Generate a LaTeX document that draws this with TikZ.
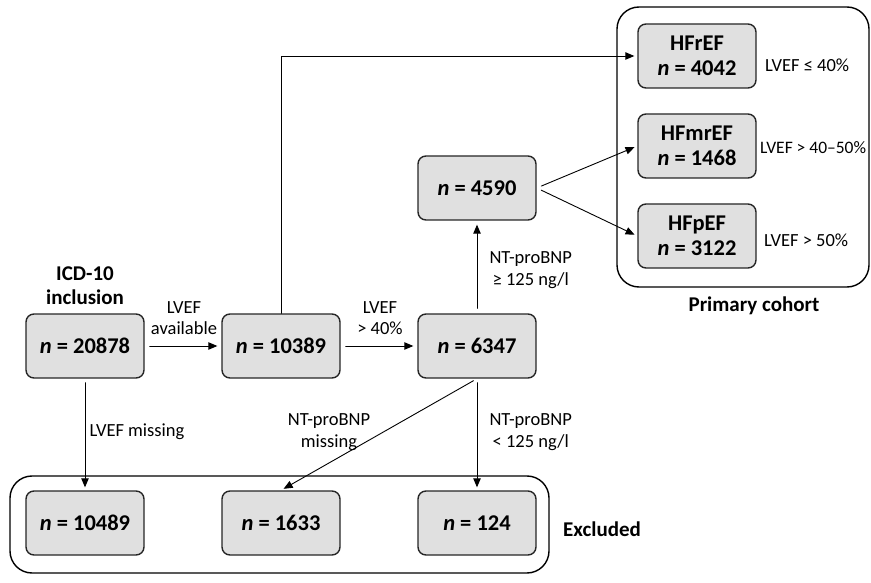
\documentclass[tikz,border=0pt]{standalone}
\usepackage{fontspec}
\setmainfont{Carlito}
\usetikzlibrary{arrows.meta}

\begin{document}
\begin{tikzpicture}[line cap=round,line join=round,>={Triangle[length=9pt,width=7.5pt]},x=1pt,y=-1pt,
  box/.style={draw=black!85,line width=1.4pt,fill=black!12,rounded corners=8pt,
    minimum width=118pt,minimum height=64pt,align=center,
    font=\fontsize{22.5}{25}\selectfont\bfseries},
  group/.style={draw=black,line width=1.4pt,rounded corners=22pt},
  lbl/.style={font=\fontsize{18.5}{21.5}\selectfont,align=center},
  side/.style={lbl,anchor=west,inner sep=0pt},
  head/.style={font=\fontsize{21}{24}\selectfont\bfseries,align=center},
  conn/.style={->,line width=0.9pt}]
\useasboundingbox (0,0) rectangle (871,583);

% groups
\draw [group] (617,7) rectangle (869,287);
\draw [group] (10,476) rectangle (549,573);
\node [head] (primary) at (754,306) {Primary cohort};
\node [head] (excluded) at (602,529) {Excluded};

% main row
\node [head] (incl) at (85,286) {ICD-10\\inclusion};
\node [box] (all) at (85,346) {\textit{n} = 20878};
\node [box] (lvef) at (281,346) {\textit{n} = 10389};
\node [box] (mid) at (477,346) {\textit{n} = 6347};
\node [box] (bnp) at (477,188) {\textit{n} = 4590};

% primary cohort
\node [box] (hfr) at (697,56) {HFrEF\\\textit{n} = 4042};
\node [box] (hfmr) at (697,146) {HFmrEF\\\textit{n} = 1468};
\node [box] (hfp) at (697,236) {HFpEF\\\textit{n} = 3122};
\node [side] (lr) at (765,65) {LVEF ≤ 40\%};
\node [side,font=\fontsize{17.5}{20}\selectfont] (lmr) at (760,148) {LVEF > 40–50\%};
\node [side] (lp) at (764,240) {LVEF > 50\%};

% excluded
\node [box] (ex1) at (85,523) {\textit{n} = 10489};
\node [box] (ex2) at (281,523) {\textit{n} = 1633};
\node [box] (ex3) at (477,523) {\textit{n} = 124};

% connectors
\draw [conn,shorten <=5pt,shorten >=4pt] (all) -- (lvef);
\draw [conn,shorten <=5pt,shorten >=4pt] (lvef) -- (mid);
\draw [conn,shorten <=5pt,shorten >=4pt] (mid) -- (bnp);
\draw [conn,shorten >=3pt] (lvef.north) |- (hfr.west);
\draw [conn,shorten <=5pt,shorten >=3pt] (bnp.east) -- (hfmr.west);
\draw [conn,shorten <=5pt,shorten >=3pt] (bnp.east) -- (hfp.west);
\draw [conn,shorten <=4pt,shorten >=3pt] (all) -- (ex1);
\draw [conn,shorten <=4pt,shorten >=3pt] (mid.south) -- (ex2.north);
\draw [conn,shorten <=4pt,shorten >=3pt] (mid) -- (ex3);

% connector labels
\node [lbl] (t1) at (184,318) {LVEF\\available};
\node [lbl] (t2) at (380,318) {LVEF\\> 40\%};
\node [lbl,anchor=west] (t3) at (486,270) {NT-proBNP\\≥ 125 ng/l};
\node [lbl] (t4) at (137,432) {LVEF missing};
\node [lbl] (t5) at (329,432) {NT-proBNP\\missing};
\node [lbl,anchor=west] (t6) at (486,432) {NT-proBNP\\< 125 ng/l};
\end{tikzpicture}
\end{document}
